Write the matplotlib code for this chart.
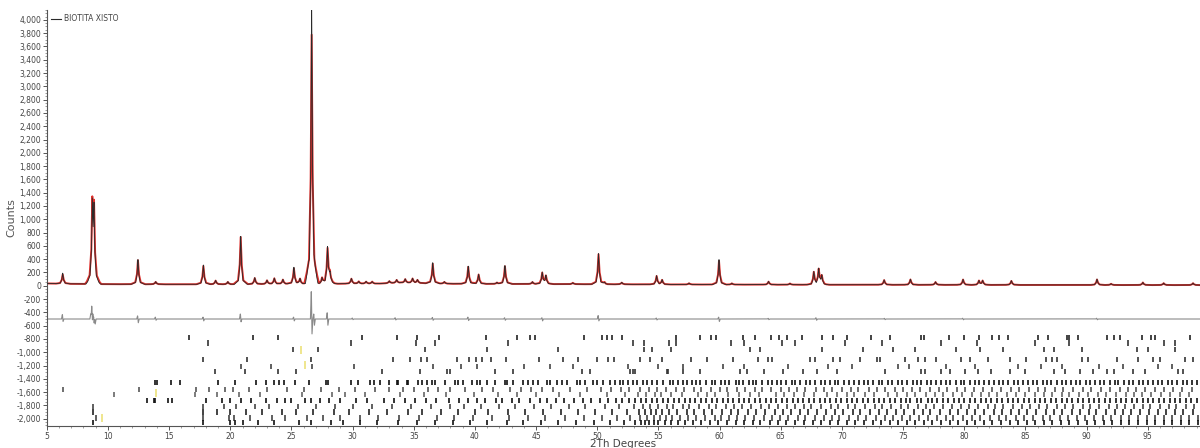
import numpy as np
import matplotlib.pyplot as plt
from matplotlib.ticker import MultipleLocator, FuncFormatter

# observed / calculated peaks: 2theta position, observed counts, calculated counts
peak_pos = [6.3, 8.72, 8.86, 12.45, 13.9, 17.8, 18.8, 19.8, 20.85, 22.0, 23.0, 23.6, 24.3,
            25.2, 25.7, 26.4, 26.65, 26.85, 27.5, 27.95, 28.15, 29.9, 30.5, 31.1, 31.6,
            33.0, 33.6, 34.3, 34.9, 35.3, 36.55, 37.5, 39.45, 40.3, 41.8, 42.45, 44.7,
            45.5, 45.8, 48.0, 50.1, 50.6, 52.0, 54.85, 55.3, 57.5, 59.95, 61.0, 64.0,
            65.75, 67.7, 68.1, 68.35, 73.45, 75.6, 77.65, 79.9, 81.2, 81.5, 83.85,
            90.85, 92.0, 94.6, 96.3, 98.7]
peak_obs = [160, 1080, 1000, 370, 40, 290, 60, 40, 720, 100, 60, 90, 70,
            250, 80, 60, 4300, 100, 90, 550, 150, 80, 35, 35, 30,
            35, 50, 60, 70, 50, 310, 30, 265, 145, 25, 275, 35,
            175, 125, 20, 460, 30, 30, 130, 70, 20, 375, 20, 50,
            20, 195, 235, 140, 75, 85, 45, 85, 65, 65, 65,
            90, 20, 40, 30, 30]
peak_calc = [140, 1050, 980, 360, 35, 275, 55, 35, 710, 90, 55, 85, 65,
             230, 75, 60, 3730, 100, 80, 520, 140, 75, 35, 30, 30,
             30, 45, 55, 65, 45, 295, 25, 255, 140, 20, 265, 30,
             165, 120, 20, 450, 25, 25, 125, 65, 18, 355, 18, 45,
             18, 185, 225, 130, 70, 80, 42, 80, 62, 62, 60,
             82, 18, 38, 28, 28]

# background level read along the pattern
bg_x = [5, 6, 8, 10, 15, 20, 25, 28, 32, 34, 35.5, 38, 45, 55, 65, 75, 85, 99.3]
bg_y = [35, 30, 28, 24, 22, 22, 28, 30, 32, 45, 40, 30, 26, 20, 16, 14, 12, 10]

# difference curve spikes: position, top, bottom
diff_pos = [6.3, 8.62, 8.7, 8.78, 8.85, 8.93, 12.45, 13.9, 17.8, 20.85, 25.2, 26.65, 26.85,
            27.95, 30.0, 33.5, 36.55, 39.45, 42.45, 45.5, 50.1, 54.85, 59.95, 64.0, 67.9,
            73.5, 79.9, 90.85]
diff_hi = [-430, -420, -250, -350, -380, -440, -450, -470, -470, -420, -470, -60, -420,
           -400, -485, -480, -475, -470, -480, -480, -445, -485, -470, -490, -480,
           -490, -488, -488]
diff_lo = [-540, -560, -620, -600, -600, -580, -560, -520, -530, -545, -530, -740, -600,
           -600, -510, -515, -520, -525, -520, -530, -530, -515, -540, -510, -520,
           -510, -512, -512]

# reference pattern sticks (one row per phase)
row_levels = [-780, -860, -960, -1110, -1210, -1290, -1460, -1560, -1640, -1730,
              -1820, -1900, -1990, -2060]
row_colors = ['#222222', '#333333', '#333333', '#333333', '#444444', '#333333', '#111111',
              '#555555', '#666666', '#111111', '#444444', '#222222', '#444444', '#111111']
ticks_r0 = [16.6, 21.85, 23.9, 30.8, 33.6, 35.25, 37.05, 40.9, 43.4, 44.5, 44.9, 48.9, 50.4,
            50.8, 51.2, 52.0, 56.4, 58.4, 59.3, 59.7, 61.9, 62.9, 64.2, 64.85, 65.5, 66.7,
            68.4, 69.3, 70.4, 72.4, 73.9, 76.5, 76.7, 78.75, 80.0, 81.2, 82.3, 82.8, 83.6,
            86.0, 86.85, 88.4, 88.6, 89.3, 91.65, 92.2, 92.7, 94.5, 95.3, 95.6, 98.45]
ticks_r1 = [18.2, 29.9, 35.2, 36.7, 42.7, 52.9, 53.8, 55.9, 56.4, 60.9, 62.0, 65.1, 66.2,
            70.25, 73.3, 78.1, 81.0, 85.8, 88.6, 93.4, 96.3, 97.2]
ticks_r2 = [25.1, 27.2, 35.9, 41.0, 46.8, 53.8, 54.5, 56.0, 62.5, 63.3, 68.4, 71.7, 74.2,
            76.0, 79.3, 81.3, 83.2, 86.5, 87.3, 89.6, 94.1, 95.0, 97.2]
ticks_r3 = [17.75, 21.4, 26.6, 33.3, 34.7, 35.6, 36.1, 38.5, 39.5, 40.1, 40.6, 41.3, 42.5,
            45.2, 47.2, 48.4, 50.0, 50.9, 51.4, 53.5, 54.3, 55.3, 57.7, 59.0, 61.1, 63.1,
            63.95, 64.3, 67.4, 67.8, 69.3, 69.85, 71.5, 72.9, 73.1, 75.15, 76.2, 76.8, 77.7,
            79.7, 80.5, 81.9, 83.7, 85.05, 86.7, 87.2, 87.6, 89.6, 90.1, 92.5, 94.2, 95.4,
            96.0, 98.05, 98.7]
ticks_r4 = [20.9, 23.3, 26.7, 30.1, 36.6, 38.9, 40.2, 44.0, 46.1, 48.0, 52.5, 55.0, 57.0,
            60.3, 62.0, 65.6, 68.9, 70.8, 74.6, 75.5, 78.5, 80.9, 84.4, 86.3, 88.0, 91.0,
            93.0, 95.8, 97.0]
ticks_r5 = [18.75, 21.2, 23.9, 25.35, 32.4, 35.5, 37.7, 37.95, 41.6, 43.1, 48.75, 49.4, 52.7,
            52.9, 53.1, 55.7, 55.8, 57.0, 58.4, 61.65, 62.2, 63.6, 65.2, 66.8, 68.0, 69.6,
            73.5, 76.5, 76.8, 78.1, 78.8, 80.05, 81.1, 82.2, 83.7, 85.0, 87.3, 88.2, 89.5,
            90.5, 91.7, 92.2, 93.8, 94.8, 97.5, 97.9]
ticks_r6 = [13.85, 14.02, 15.15, 15.85, 19.0, 20.4, 22.1, 22.95, 23.55, 24.0, 24.35, 25.3,
            26.4, 27.8, 27.95, 29.85, 30.45, 31.4, 31.75, 32.2, 32.95, 33.6, 33.72, 34.41,
            34.54, 35.36, 35.64, 36.05, 36.46, 36.73, 37.54, 38.36, 38.63, 39.04, 39.73,
            40.13, 40.4, 40.95, 41.63, 42.45, 42.59, 43.13, 43.95, 44.35, 44.76, 45.17,
            45.86, 46.13, 46.68, 47.09, 47.49, 48.31, 48.58, 48.99, 49.67, 49.95, 50.49,
            51.03, 51.44, 51.85, 52.12, 52.53, 52.94, 53.22, 53.76, 54.03, 54.44, 54.85,
            55.39, 55.94, 56.21, 56.62, 57.0, 57.3, 57.75, 58.1, 58.4, 58.9, 59.35, 59.6,
            60.1, 60.45, 60.8, 61.3, 61.55, 61.9, 62.4, 62.75, 63.0, 63.5, 63.95, 64.3,
            64.7, 65.0, 65.45, 65.9, 66.2, 66.55, 67.1, 67.4, 67.8, 68.3, 68.6, 69.0, 69.45,
            69.7, 70.2, 70.6, 70.95, 71.4, 71.8, 72.1, 72.55, 73.0, 73.3, 73.75, 74.1, 74.6,
            74.9, 75.3, 75.8, 76.1, 76.5, 76.95, 77.3, 77.65, 78.1, 78.5, 78.8, 79.3, 79.7,
            80.0, 80.45, 80.9, 81.2, 81.65, 82.0, 82.4, 82.85, 83.2, 83.6, 84.05, 84.4,
            84.8, 85.2, 85.6, 85.95, 86.4, 86.8, 87.1, 87.55, 88.0, 88.3, 88.75, 89.1, 89.5,
            89.95, 90.3, 90.7, 91.1, 91.45, 91.9, 92.3, 92.6, 93.05, 93.5, 93.8, 94.25,
            94.6, 95.0, 95.45, 95.8, 96.2, 96.65, 97.0, 97.4, 97.85, 98.2, 98.6, 99.0]
ticks_r7 = [6.3, 12.5, 17.2, 18.3, 19.6, 20.2, 21.5, 23.0, 24.6, 26.0, 27.4, 28.9, 30.2,
            31.8, 33.0, 34.1, 35.0, 36.2, 37.0, 38.0, 39.2, 40.6, 41.5, 42.9, 43.8, 44.6,
            45.5, 46.4, 47.8, 49.2, 50.3, 51.1, 51.9, 52.6, 53.5, 54.2, 54.9, 55.6, 56.4,
            57.1, 57.9, 58.5, 59.3, 60.0, 60.6, 61.4, 62.1, 62.9, 63.5, 64.2, 65.0, 65.7,
            66.3, 67.0, 67.9, 68.5, 69.2, 70.0, 70.7, 71.3, 72.2, 72.9, 73.5, 74.3, 75.0,
            75.7, 76.4, 77.2, 77.9, 78.6, 79.4, 80.1, 80.8, 81.5, 82.3, 83.0, 83.8, 84.5,
            85.3, 86.0, 86.6, 87.4, 88.1, 88.9, 89.7, 90.4, 91.2, 91.9, 92.7, 93.4, 94.0,
            94.8, 95.6, 96.3, 97.1, 97.8, 98.6]
ticks_r8 = [10.5, 17.1, 18.9, 20.7, 22.4, 25.9, 28.3, 29.4, 31.0, 33.9, 35.8, 37.6, 39.9,
            41.9, 43.4, 45.0, 46.9, 48.6, 50.8, 52.3, 53.3, 54.0, 54.7, 55.2, 56.0, 56.9,
            58.2, 59.0, 59.6, 60.7, 61.6, 62.5, 63.2, 64.6, 65.3, 66.1, 66.9, 67.7, 68.8,
            69.6, 70.4, 71.0, 71.9, 72.6, 73.8, 74.5, 75.3, 76.0, 76.9, 77.6, 78.3, 79.1,
            79.8, 80.6, 81.4, 82.0, 82.7, 83.5, 84.2, 85.0, 85.8, 86.5, 87.2, 88.0, 88.6,
            89.4, 90.1, 90.9, 91.6, 92.4, 93.2, 93.9, 94.5, 95.3, 96.1, 96.8, 97.6, 98.4]
ticks_r9 = [13.2, 13.75, 13.82, 14.9, 15.2, 18.0, 19.3, 20.0, 20.9, 21.7, 22.9, 23.8, 24.5,
            25.0, 26.1, 26.6, 27.3, 28.1, 29.0, 30.3, 31.2, 32.6, 33.4, 34.3, 35.1, 36.0,
            36.8, 37.9, 38.7, 39.4, 40.2, 40.8, 41.7, 42.2, 43.0, 43.6, 44.5, 45.3, 45.9,
            46.6, 47.3, 48.1, 48.8, 49.5, 50.2, 50.9, 51.5, 52.0, 52.6, 53.1, 53.6, 54.0,
            54.5, 54.9, 55.4, 55.8, 56.3, 56.7, 57.2, 57.6, 58.0, 58.5, 58.9, 59.4, 59.8,
            60.3, 60.7, 61.1, 61.6, 62.0, 62.4, 62.9, 63.3, 63.8, 64.2, 64.6, 65.1, 65.5,
            66.0, 66.4, 66.8, 67.3, 67.7, 68.2, 68.6, 69.0, 69.5, 69.9, 70.4, 70.8, 71.2,
            71.7, 72.1, 72.6, 73.0, 73.4, 73.9, 74.3, 74.8, 75.2, 75.6, 76.1, 76.5, 77.0,
            77.4, 77.8, 78.3, 78.7, 79.2, 79.6, 80.0, 80.5, 80.9, 81.4, 81.8, 82.2, 82.7,
            83.1, 83.6, 84.0, 84.4, 84.9, 85.3, 85.8, 86.2, 86.6, 87.1, 87.5, 88.0, 88.4,
            88.8, 89.3, 89.7, 90.2, 90.6, 91.0, 91.5, 91.9, 92.4, 92.8, 93.2, 93.7, 94.1,
            94.6, 95.0, 95.4, 95.9, 96.3, 96.8, 97.2, 97.6, 98.1, 98.5, 99.0]
ticks_r10 = [8.8, 17.8, 19.5, 20.5, 22.0, 23.2, 25.5, 27.0, 28.6, 30.0, 31.6, 33.2, 34.8,
             36.4, 38.0, 39.1, 40.5, 42.0, 43.3, 44.8, 46.2, 47.7, 49.0, 50.6, 51.8, 53.0,
             53.7, 54.3, 55.0, 55.7, 56.2, 57.0, 57.5, 58.3, 59.1, 59.7, 60.5, 61.2, 61.8,
             62.6, 63.4, 64.0, 64.8, 65.5, 66.2, 66.9, 67.5, 68.3, 69.1, 69.7, 70.5, 71.1,
             71.9, 72.7, 73.3, 74.0, 74.8, 75.4, 76.2, 76.9, 77.5, 78.3, 79.0, 79.7, 80.4,
             81.1, 81.9, 82.5, 83.2, 84.0, 84.7, 85.4, 86.1, 86.8, 87.6, 88.2, 88.9, 89.7,
             90.3, 91.0, 91.8, 92.5, 93.1, 93.9, 94.6, 95.2, 96.0, 96.7, 97.3, 98.1, 98.8]
ticks_r11 = [8.8, 17.8, 18.9, 20.0, 21.3, 22.6, 24.2, 25.4, 26.8, 28.5, 29.7, 31.3, 32.8,
             34.5, 35.7, 37.2, 38.6, 40.0, 41.1, 42.7, 44.1, 45.6, 47.0, 48.4, 49.8, 51.2,
             52.4, 53.4, 53.9, 54.4, 54.8, 55.3, 55.9, 56.5, 57.3, 57.9, 58.7, 59.4, 60.2,
             60.9, 61.5, 62.3, 63.0, 63.7, 64.5, 65.2, 65.8, 66.6, 67.2, 68.0, 68.7, 69.4,
             70.1, 70.9, 71.5, 72.3, 73.0, 73.7, 74.4, 75.1, 75.9, 76.6, 77.2, 78.0, 78.8,
             79.5, 80.2, 80.9, 81.6, 82.4, 83.1, 83.8, 84.5, 85.1, 85.9, 86.7, 87.3, 88.0,
             88.8, 89.5, 90.2, 90.8, 91.6, 92.3, 93.0, 93.6, 94.4, 95.1, 95.8, 96.5, 97.2,
             97.9, 98.7]
ticks_r12 = [9.0, 17.8, 19.9, 20.3, 21.6, 23.4, 24.5, 26.3, 27.6, 29.0, 30.6, 32.1, 33.8,
             35.4, 36.9, 38.3, 39.8, 41.4, 42.8, 44.3, 45.7, 47.4, 48.9, 50.4, 51.6, 52.7,
             53.5, 54.1, 54.6, 55.1, 55.6, 56.1, 56.8, 57.4, 58.1, 58.8, 59.6, 60.1, 60.8,
             61.4, 62.1, 62.8, 63.6, 64.3, 64.9, 65.6, 66.4, 67.0, 67.8, 68.5, 69.2, 69.8,
             70.6, 71.3, 72.0, 72.8, 73.5, 74.2, 74.9, 75.6, 76.3, 77.0, 77.8, 78.5, 79.1,
             79.9, 80.6, 81.3, 82.1, 82.8, 83.4, 84.2, 84.9, 85.6, 86.4, 87.0, 87.8, 88.5,
             89.2, 89.9, 90.6, 91.3, 92.0, 92.8, 93.5, 94.2, 94.9, 95.6, 96.3, 97.0, 97.7,
             98.4, 99.1]
ticks_r13 = [8.8, 17.8, 20.0, 20.4, 21.0, 22.3, 23.6, 25.6, 26.6, 28.2, 29.2, 30.6, 32.0,
             33.7, 35.3, 36.7, 38.2, 39.6, 41.0, 42.6, 43.9, 45.4, 46.8, 48.3, 49.7, 51.0,
             52.2, 53.1, 53.6, 53.9, 54.2, 54.6, 55.0, 55.5, 56.0, 56.6, 57.2, 57.8, 58.5,
             59.2, 59.9, 60.6, 61.3, 62.0, 62.7, 63.3, 64.1, 64.8, 65.4, 66.2, 66.9, 67.6,
             68.3, 69.0, 69.7, 70.4, 71.1, 71.8, 72.5, 73.2, 73.9, 74.6, 75.3, 76.0, 76.7,
             77.4, 78.1, 78.8, 79.5, 80.2, 80.9, 81.6, 82.3, 83.0, 83.7, 84.4, 85.1, 85.8,
             86.5, 87.2, 87.9, 88.6, 89.3, 90.0, 90.7, 91.4, 92.1, 92.8, 93.5, 94.2, 94.9,
             95.6, 96.3, 97.0, 97.7, 98.4, 99.1]
rows = [ticks_r0, ticks_r1, ticks_r2, ticks_r3, ticks_r4, ticks_r5, ticks_r6, ticks_r7,
        ticks_r8, ticks_r9, ticks_r10, ticks_r11, ticks_r12, ticks_r13]

# faint yellow sticks
yellow_pos = [9.5, 13.9, 25.8, 26.1]
yellow_lvl = [-1985, -1610, -960, -1190]

# build the profiles on a fine grid
x = np.arange(5, 99.3, 0.01)
bg = np.interp(x, bg_x, bg_y)
shape_dx = [-0.6, -0.22, -0.08, 0, 0.08, 0.22, 0.6]
shape_f = [0, 0.08, 0.42, 1, 0.42, 0.08, 0]
obs = bg.copy()
calc = bg.copy()
for p, ho, hc in zip(peak_pos, peak_obs, peak_calc):
    xs = [p + d for d in shape_dx]
    obs = obs + np.interp(x, [p + 0.85 * d for d in shape_dx], [f * ho for f in shape_f])
    calc = calc + np.interp(x, xs, [f * hc for f in shape_f])

diff = np.full_like(x, -500.0)
for p, hi, lo in zip(diff_pos, diff_hi, diff_lo):
    diff = diff + np.interp(x, [p - 0.1, p - 0.025, p + 0.025, p + 0.1],
                            [0, hi + 500, lo + 500, 0])

fig = plt.figure(figsize=(12, 4.48), dpi=100)
ax = fig.add_axes([0.039, 0.049, 0.961, 0.929])

ax.plot(x, calc, color='#e0302c', lw=1.4, zorder=2)
ax.plot(x, obs, color='#2a2a2a', lw=0.6, zorder=3, label='BIOTITA XISTO')
ax.plot(x, diff, color='#8a8a8a', lw=0.8, zorder=2)

for lvl, col, pos in zip(row_levels, row_colors, rows):
    ax.vlines(pos, lvl - 40, lvl + 40, colors=col, lw=1.2)
ax.vlines(yellow_pos, [v - 60 for v in yellow_lvl], [v + 60 for v in yellow_lvl],
          colors='#ece27a', lw=1.2)

ax.set_xlim(5, 99.27)
ax.set_ylim(-2110, 4150)
ax.xaxis.set_major_locator(MultipleLocator(5))
ax.xaxis.set_minor_locator(MultipleLocator(1))
ax.yaxis.set_major_locator(MultipleLocator(200))
ax.yaxis.set_minor_locator(MultipleLocator(50))
ax.yaxis.set_major_formatter(FuncFormatter(lambda v, _: f'{int(v):,}'))

for s in ['top', 'right']:
    ax.spines[s].set_visible(False)
for s in ['left', 'bottom']:
    ax.spines[s].set_color('#555555')
    ax.spines[s].set_linewidth(0.8)
ax.tick_params(axis='both', which='major', labelsize=5.5, length=3, width=0.7,
               colors='#555555', labelcolor='#444444', pad=1)
ax.tick_params(axis='both', which='minor', length=1.5, width=0.5, colors='#777777')

ax.set_xlabel('2Th Degrees', fontsize=7.5, color='#444444', labelpad=-1)
ax.set_ylabel('Counts', fontsize=8, color='#555555')
ax.yaxis.set_label_coords(-0.0265, 0.5)

leg = ax.legend(loc='upper left', frameon=False, fontsize=5.5, handlelength=1.2,
                handletextpad=0.5, borderaxespad=0.2, labelcolor='#444444')
leg.get_lines()[0].set_linewidth(0.8)

fig.savefig('out.png', dpi=100)
